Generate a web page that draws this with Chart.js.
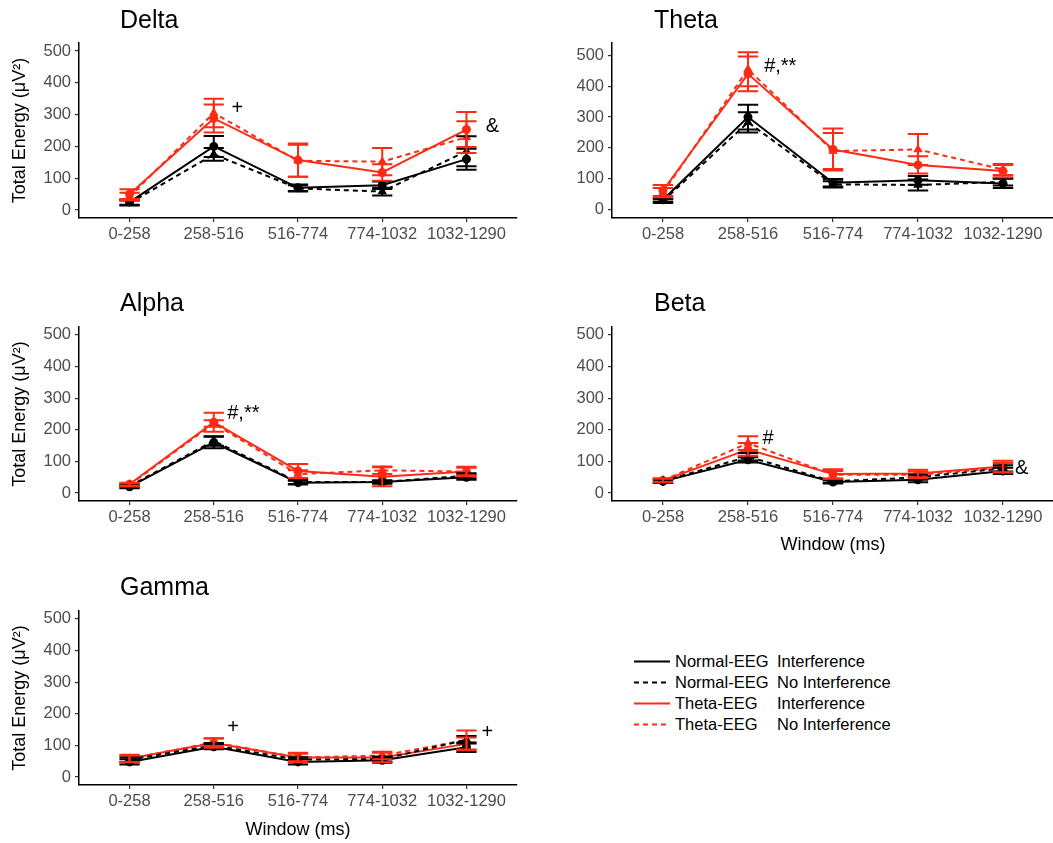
<!DOCTYPE html>
<html>
<head>
<meta charset="utf-8">
<script src="https://cdn.jsdelivr.net/npm/chart.js@4.4.1/dist/chart.umd.min.js"></script>
<style>
  html, body { margin: 0; padding: 0; background: #fff; overflow: hidden; }
  body { position: relative; width: 1053px; height: 843px; font-family: "Liberation Sans", Arial, sans-serif; }
  .panel { position: absolute; }
  .ptitle { position: absolute; font-size: 25px; line-height: 1; color: #000; white-space: nowrap; }
  .legend { position: absolute; left: 633px; top: 651px; font-size: 16.5px; color: #000; }
  .legend .row { position: relative; height: 21px; line-height: 21px; white-space: nowrap; }
  .legend svg { position: absolute; left: 0; top: 0; }
  .legend .grp { position: absolute; left: 42px; }
  .legend .cond { position: absolute; left: 144px; }
</style>
</head>
<body>
<div id="root"></div>
<div class="legend" id="legend"></div>
<script>
// x categories and y ticks
const windows = ['0-258', '258-516', '516-774', '774-1032', '1032-1290'];
const yTicks = [0, 100, 200, 300, 400, 500];

const seriesGroup = ['Normal-EEG', 'Normal-EEG', 'Theta-EEG', 'Theta-EEG'];
const seriesCond = ['Interference', 'No Interference', 'Interference', 'No Interference'];
const seriesColor = ['#000000', '#000000', '#ff2a14', '#ff2a14'];
const seriesDash = [[], [5, 4], [], [5, 4]];
const seriesPoint = ['circle', 'triangle', 'circle', 'triangle'];

// Delta
const deltaNormInt = [25, 200, 70, 78, 160];
const deltaNormIntErr = [8, 33, 10, 12, 33];
const deltaNormNo = [22, 175, 68, 58, 185];
const deltaNormNoErr = [8, 20, 10, 12, 47];
const deltaThetaInt = [50, 288, 157, 118, 253];
const deltaThetaIntErr = [15, 44, 52, 26, 55];
const deltaThetaNo = [42, 305, 155, 152, 229];
const deltaThetaNoErr = [12, 45, 50, 43, 50];

// Theta
const thetaNormInt = [32, 300, 87, 95, 85];
const thetaNormIntErr = [6, 40, 12, 14, 15];
const thetaNormNo = [28, 283, 82, 80, 90];
const thetaNormNoErr = [6, 33, 10, 18, 12];
const thetaThetaInt = [62, 440, 195, 145, 125];
const thetaThetaIntErr = [18, 56, 68, 28, 20];
const thetaThetaNo = [55, 455, 190, 195, 130];
const thetaThetaNoErr = [15, 55, 58, 50, 18];

// Alpha
const alphaNormInt = [20, 160, 33, 35, 50];
const alphaNormIntErr = [5, 18, 6, 5, 8];
const alphaNormNo = [22, 165, 35, 35, 55];
const alphaNormNoErr = [4, 15, 6, 5, 8];
const alphaThetaInt = [28, 224, 70, 52, 68];
const alphaThetaIntErr = [5, 30, 22, 30, 15];
const alphaThetaNo = [26, 220, 60, 72, 68];
const alphaThetaNoErr = [5, 10, 12, 12, 12];

// Beta
const betaNormInt = [37, 105, 35, 42, 70];
const betaNormIntErr = [5, 8, 5, 8, 10];
const betaNormNo = [38, 115, 37, 50, 78];
const betaNormNoErr = [5, 12, 5, 8, 10];
const betaThetaInt = [40, 138, 60, 62, 84];
const betaThetaIntErr = [6, 20, 15, 12, 18];
const betaThetaNo = [40, 158, 58, 58, 80];
const betaThetaNoErr = [6, 22, 12, 10, 15];

// Gamma
const gammaNormInt = [48, 96, 48, 53, 94];
const gammaNormIntErr = [8, 8, 8, 8, 15];
const gammaNormNo = [55, 100, 55, 57, 118];
const gammaNormNoErr = [8, 8, 8, 8, 12];
const gammaThetaInt = [59, 108, 62, 62, 105];
const gammaThetaIntErr = [12, 15, 15, 15, 20];
const gammaThetaNo = [58, 110, 62, 68, 117];
const gammaThetaNoErr = [10, 12, 12, 12, 30];

// significance marks (category position, value, text)
const deltaMarks = [[1.21, 320, '+'], [4.23, 262, '&']];
const thetaMarks = [[1.19, 463, '#,**']];
const alphaMarks = [[1.16, 252, '#,**']];
const betaMarks = [[1.17, 173, '#'], [4.14, 78, '&']];
const gammaMarks = [[1.16, 157, '+'], [4.18, 140, '+']];

Chart.defaults.font.family = '"Liberation Sans", Arial, sans-serif';
Chart.defaults.animation = false;

const errorBars = {
  id: 'errorBars',
  afterDatasetsDraw(chart, args, opts) {
    const { ctx, scales: { x, y } } = chart;
    const half = (x.getPixelForValue(1) - x.getPixelForValue(0)) * 0.12;
    ctx.save();
    ctx.setLineDash([]);
    chart.data.datasets.forEach(ds => {
      ctx.strokeStyle = ds.borderColor;
      ctx.lineWidth = 2;
      ds.data.forEach((p, i) => {
        const e = ds.errors[i];
        const px = x.getPixelForValue(p.x);
        const top = y.getPixelForValue(p.y + e);
        const bot = y.getPixelForValue(p.y - e);
        ctx.beginPath();
        ctx.moveTo(px, top); ctx.lineTo(px, bot);
        ctx.moveTo(px - half, top); ctx.lineTo(px + half, top);
        ctx.moveTo(px - half, bot); ctx.lineTo(px + half, bot);
        ctx.stroke();
      });
    });
    ctx.fillStyle = '#000';
    ctx.font = '20px "Liberation Sans", Arial, sans-serif';
    ctx.textAlign = 'left';
    ctx.textBaseline = 'middle';
    (opts.marks || []).forEach(m => {
      ctx.fillText(m[2], x.getPixelForValue(m[0]), y.getPixelForValue(m[1]));
    });
    ctx.restore();
  }
};

function makePanel(p) {
  const wrap = document.createElement('div');
  wrap.className = 'panel';
  wrap.style.left = p.box[0] + 'px';
  wrap.style.top = p.box[1] + 'px';
  const canvas = document.createElement('canvas');
  canvas.width = p.box[2];
  canvas.height = p.box[3];
  wrap.appendChild(canvas);
  document.getElementById('root').appendChild(wrap);

  const t = document.createElement('div');
  t.className = 'ptitle';
  t.textContent = p.title;
  t.style.left = p.titlePos[0] + 'px';
  t.style.top = p.titlePos[1] + 'px';
  document.body.appendChild(t);

  const datasets = p.series.map((s, k) => ({
    label: seriesGroup[k] + ' ' + seriesCond[k],
    data: s[0].map((v, i) => ({ x: i, y: v })),
    errors: s[1],
    borderColor: seriesColor[k],
    backgroundColor: seriesColor[k],
    pointBackgroundColor: seriesColor[k],
    pointBorderColor: seriesColor[k],
    borderWidth: 2,
    borderDash: seriesDash[k],
    pointStyle: seriesPoint[k],
    pointRadius: 3.5,
    tension: 0
  }));

  const yWidth = p.area[0] - p.box[0];
  const xHeight = p.box[1] + p.box[3] - p.area[3];

  new Chart(canvas, {
    type: 'line',
    data: { datasets },
    options: {
      responsive: false,
      layout: {
        padding: {
          left: 0,
          top: p.area[1] - p.box[1],
          right: p.box[0] + p.box[2] - p.area[2],
          bottom: 0
        }
      },
      plugins: {
        legend: { display: false },
        tooltip: { enabled: false },
        errorBars: { marks: p.marks }
      },
      scales: {
        x: {
          type: 'linear',
          min: -0.6,
          max: 4.6,
          afterBuildTicks: s => { s.ticks = windows.map((w, i) => ({ value: i })); },
          afterFit: s => { s.height = xHeight; },
          border: { display: true, color: '#000', width: 1.5 },
          grid: { drawOnChartArea: false, drawTicks: true, tickLength: 4, color: '#333', lineWidth: 1.2 },
          ticks: {
            autoSkip: false, maxRotation: 0, padding: 3,
            color: '#4d4d4d', font: { size: 16.5 },
            callback: v => windows[v]
          },
          title: {
            display: p.xTitle, text: 'Window (ms)', color: '#000',
            font: { size: 18 }, padding: { top: 0, bottom: p.xTitlePad || 3 }
          }
        },
        y: {
          min: p.yRange[0],
          max: p.yRange[1],
          afterBuildTicks: s => { s.ticks = yTicks.map(v => ({ value: v })); },
          afterFit: s => { s.width = yWidth; },
          border: { display: true, color: '#000', width: 1.5 },
          grid: { drawOnChartArea: false, drawTicks: true, tickLength: 4, color: '#333', lineWidth: 1.2 },
          ticks: { padding: 4, color: '#4d4d4d', font: { size: 16.5 } },
          title: {
            display: p.yTitle, text: 'Total Energy (μV²)', color: '#000',
            font: { size: 18 }, padding: { top: 9, bottom: 0 }
          }
        }
      }
    },
    plugins: [errorBars]
  });
}

const panels = [
  {
    title: 'Delta', titlePos: [120, 7], box: [0, 0, 530, 262], area: [79, 43, 517, 218],
    yRange: [-25, 525], yTitle: true, xTitle: false, marks: deltaMarks,
    series: [[deltaNormInt, deltaNormIntErr], [deltaNormNo, deltaNormNoErr],
             [deltaThetaInt, deltaThetaIntErr], [deltaThetaNo, deltaThetaNoErr]]
  },
  {
    title: 'Theta', titlePos: [654, 7], box: [530, 0, 530, 262], area: [612, 43, 1057, 218],
    yRange: [-27, 540], yTitle: false, xTitle: false, marks: thetaMarks,
    series: [[thetaNormInt, thetaNormIntErr], [thetaNormNo, thetaNormNoErr],
             [thetaThetaInt, thetaThetaIntErr], [thetaThetaNo, thetaThetaNoErr]]
  },
  {
    title: 'Alpha', titlePos: [120, 290], box: [0, 270, 530, 275], area: [79, 327, 517, 501],
    yRange: [-25, 525], yTitle: true, xTitle: false, marks: alphaMarks,
    series: [[alphaNormInt, alphaNormIntErr], [alphaNormNo, alphaNormNoErr],
             [alphaThetaInt, alphaThetaIntErr], [alphaThetaNo, alphaThetaNoErr]]
  },
  {
    title: 'Beta', titlePos: [654, 290], box: [530, 270, 530, 290], area: [612, 327, 1057, 501],
    yRange: [-25, 525], yTitle: false, xTitle: true, xTitlePad: 4, marks: betaMarks,
    series: [[betaNormInt, betaNormIntErr], [betaNormNo, betaNormNoErr],
             [betaThetaInt, betaThetaIntErr], [betaThetaNo, betaThetaNoErr]]
  },
  {
    title: 'Gamma', titlePos: [120, 574], box: [0, 560, 530, 283], area: [79, 611, 517, 785],
    yRange: [-25, 525], yTitle: true, xTitle: true, xTitlePad: 2, marks: gammaMarks,
    series: [[gammaNormInt, gammaNormIntErr], [gammaNormNo, gammaNormNoErr],
             [gammaThetaInt, gammaThetaIntErr], [gammaThetaNo, gammaThetaNoErr]]
  }
];

panels.forEach(makePanel);

// legend
const legend = document.getElementById('legend');
seriesGroup.forEach((g, k) => {
  const row = document.createElement('div');
  row.className = 'row';
  row.innerHTML =
    '<svg width="38" height="21"><line x1="1" y1="10.5" x2="37" y2="10.5" stroke="' + seriesColor[k] +
    '" stroke-width="2" stroke-dasharray="' + (seriesDash[k].length ? seriesDash[k].join(' ') : 'none') + '"/></svg>' +
    '<span class="grp"></span><span class="cond"></span>';
  row.querySelector('.grp').textContent = g;
  row.querySelector('.cond').textContent = seriesCond[k];
  legend.appendChild(row);
});
</script>
</body>
</html>
